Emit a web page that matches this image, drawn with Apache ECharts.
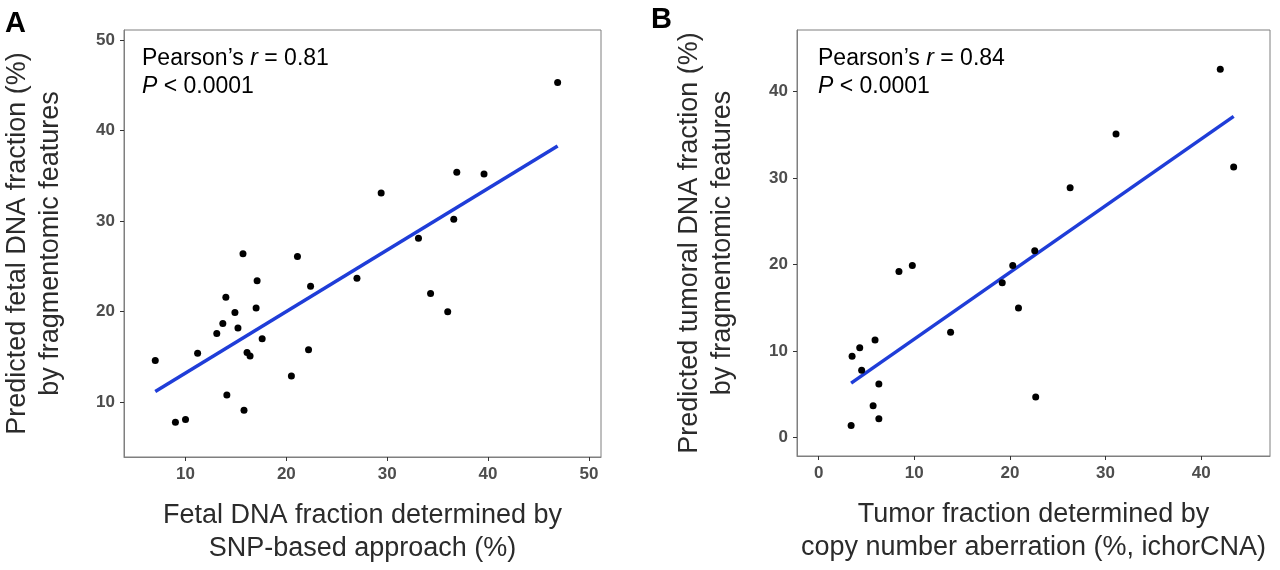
<!DOCTYPE html>
<html>
<head>
<meta charset="UTF-8">
<title>Fragmentomic fraction correlation</title>
<script src="https://cdn.jsdelivr.net/npm/echarts@6/dist/echarts.min.js"></script>
<style>
  html, body { margin: 0; padding: 0; background: #fff; }
  #chart { width: 1280px; height: 570px; }
</style>
</head>
<body>
<div id="chart"></div>
<script>
// panel A: fetal DNA fraction (SNP-based) vs predicted
var fetalSnp = [46.9, 36.9, 39.6, 29.4, 36.6, 33.1, 15.7, 21.1, 17.1, 27.0, 22.4, 14.0, 14.9, 17.0, 13.7,
  15.2, 13.1, 17.6, 34.3, 36.0, 11.2, 16.1, 16.4, 22.2, 7.0, 20.5, 14.1, 15.8, 10.0, 9.0];
var fetalPred = [45.3, 35.4, 35.2, 33.1, 30.2, 28.1, 26.4, 26.1, 23.4, 23.7, 22.8, 21.6, 19.9, 20.4, 18.7,
  18.2, 17.6, 17.0, 22.0, 20.0, 15.4, 15.5, 15.1, 15.8, 14.6, 12.9, 10.8, 9.1, 8.1, 7.8];

// panel B: tumor fraction (ichorCNA) vs predicted
var tumorCna = [42.0, 31.1, 43.4, 26.3, 22.6, 20.3, 9.8, 8.4, 19.2, 20.9, 13.8, 5.9, 4.3, 3.5, 4.5,
  6.3, 22.7, 5.7, 6.3, 3.4];
var tumorPred = [42.6, 35.1, 31.3, 28.9, 21.6, 19.9, 19.9, 19.2, 17.9, 15.0, 12.2, 11.3, 10.4, 9.4, 7.8,
  6.2, 4.7, 3.7, 2.2, 1.4];

var ticksA = [10, 20, 30, 40, 50];
var ticksAy = [10, 20, 30, 40, 50];
var ticksB = [0, 10, 20, 30, 40];
var ticksBy = [0, 10, 20, 30, 40];

function pairs(xs, ys) {
  return xs.map(function (x, i) { return [x, ys[i]]; });
}

// least squares fit, drawn over the range of x
function fitLine(xs, ys) {
  var n = xs.length, mx = 0, my = 0, sxy = 0, sxx = 0;
  xs.forEach(function (x, i) { mx += x; my += ys[i]; });
  mx /= n; my /= n;
  xs.forEach(function (x, i) { sxy += (x - mx) * (ys[i] - my); sxx += (x - mx) * (x - mx); });
  var b = sxy / sxx, a = my - b * mx;
  var lo = Math.min.apply(null, xs), hi = Math.max.apply(null, xs);
  return [[lo, a + b * lo], [hi, a + b * hi]];
}

var font = '"Liberation Sans", Arial, sans-serif';
var tickText = { color: '#4d4d4d', fontSize: 17, fontWeight: 'bold', fontFamily: font };
var titleText = { color: '#2b2b2b', fontSize: 27, fontFamily: font, lineHeight: 33 };

function xAxis(idx, min, max, ticks, name) {
  return {
    type: 'value', gridIndex: idx, min: min, max: max,
    name: name, nameLocation: 'middle', nameGap: 42, nameTextStyle: titleText,
    axisLine: { show: true, onZero: false, lineStyle: { color: '#7f7f7f', width: 1 } },
    axisTick: { show: true, customValues: ticks, length: 4, lineStyle: { color: '#333' } },
    axisLabel: Object.assign({ customValues: ticks, margin: 9 }, tickText),
    splitLine: { show: false }
  };
}
function yAxis(idx, min, max, ticks, name, gap) {
  return {
    type: 'value', gridIndex: idx, min: min, max: max,
    name: name, nameLocation: 'middle', nameGap: gap, nameRotate: 90, nameTextStyle: titleText,
    axisLine: { show: true, onZero: false, lineStyle: { color: '#7f7f7f', width: 1 } },
    axisTick: { show: true, customValues: ticks, length: 4, lineStyle: { color: '#333' } },
    axisLabel: Object.assign({ customValues: ticks, margin: 9 }, tickText),
    splitLine: { show: false }
  };
}

var statRich = {
  n: { fontSize: 23, color: '#000', fontFamily: font, fontWeight: 'normal', lineHeight: 28 },
  i: { fontSize: 23, color: '#000', fontFamily: font, fontWeight: 'normal', fontStyle: 'italic', lineHeight: 28 }
};

var chart = echarts.init(document.getElementById('chart'));
chart.setOption({
  backgroundColor: '#fff',
  animation: false,
  title: [
    { text: 'A', left: 0, top: 4, textStyle: { fontSize: 29, fontWeight: 'bold', color: '#000', fontFamily: font } },
    { text: 'B', left: 646, top: 0, textStyle: { fontSize: 29, fontWeight: 'bold', color: '#000', fontFamily: font } },
    { text: '{n|Pearson\u2019s }{i|r}{n| = 0.81}\n{i|P}{n| < 0.0001}', left: 137, top: 40,
      textStyle: { fontWeight: 'normal', rich: statRich } },
    { text: '{n|Pearson\u2019s }{i|r}{n| = 0.84}\n{i|P}{n| < 0.0001}', left: 813, top: 40,
      textStyle: { fontWeight: 'normal', rich: statRich } }
  ],
  grid: [
    { left: 123, top: 30, width: 478, height: 431, show: true, borderColor: '#7f7f7f', borderWidth: 1, backgroundColor: '#fff' },
    { left: 797, top: 30, width: 473, height: 426, show: true, borderColor: '#7f7f7f', borderWidth: 1, backgroundColor: '#fff' }
  ],
  xAxis: [
    xAxis(0, 3.9, 51.2, ticksA, 'Fetal DNA fraction determined by\nSNP-based approach (%)'),
    xAxis(1, -2.26, 47.2, ticksB, 'Tumor fraction determined by\ncopy number aberration (%, ichorCNA)')
  ],
  yAxis: [
    yAxis(0, 3.95, 51.1, ticksAy, 'Predicted fetal DNA fraction (%)\nby fragmentomic features', 57),
    yAxis(1, -2.12, 47.13, ticksBy, 'Predicted tumoral DNA fraction (%)\nby fragmentomic features', 58)
  ],
  series: [
    {
      type: 'line', xAxisIndex: 0, yAxisIndex: 0, data: fitLine(fetalSnp, fetalPred),
      symbol: 'none', lineStyle: { color: '#1f3dd8', width: 3.5 }, z: 2
    },
    {
      type: 'scatter', xAxisIndex: 0, yAxisIndex: 0, data: pairs(fetalSnp, fetalPred),
      symbolSize: 7, itemStyle: { color: '#000', opacity: 1 }, z: 3
    },
    {
      type: 'line', xAxisIndex: 1, yAxisIndex: 1, data: fitLine(tumorCna, tumorPred),
      symbol: 'none', lineStyle: { color: '#1f3dd8', width: 3.5 }, z: 2
    },
    {
      type: 'scatter', xAxisIndex: 1, yAxisIndex: 1, data: pairs(tumorCna, tumorPred),
      symbolSize: 7, itemStyle: { color: '#000', opacity: 1 }, z: 3
    }
  ]
});
</script>
</body>
</html>
